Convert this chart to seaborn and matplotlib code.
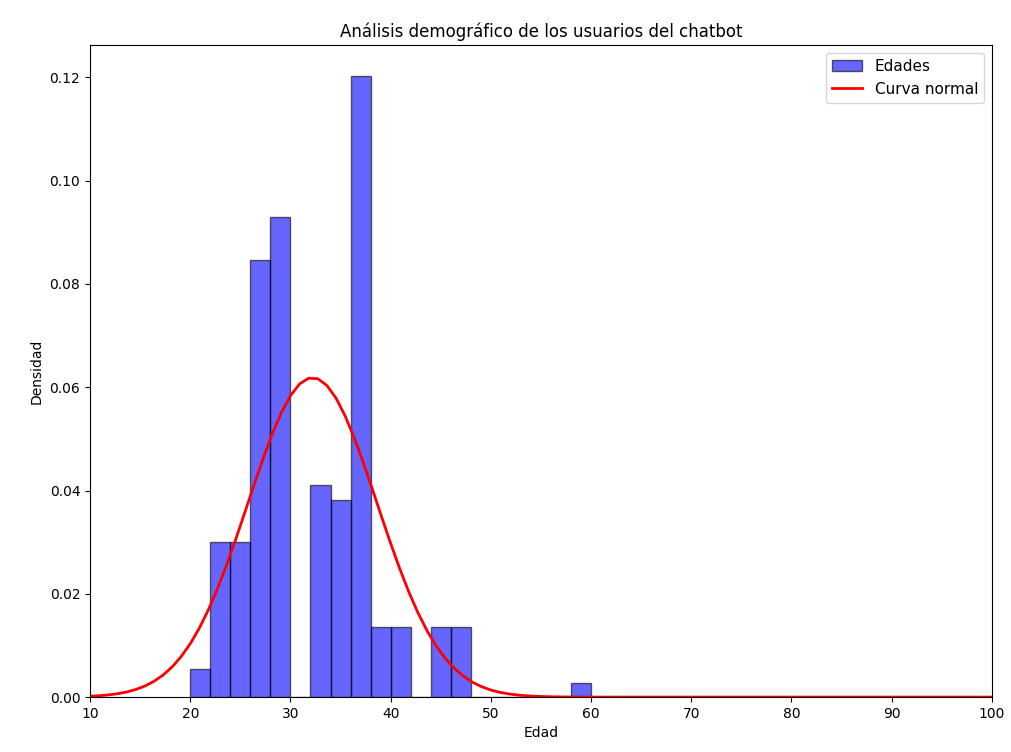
import numpy as np
import pandas as pd
import matplotlib
matplotlib.use("Agg")
import matplotlib.pyplot as plt
import seaborn as sns

# Histogram data (bin width 2, counts read from the density heights)
bin_edges = list(range(20, 62, 2))
age_centers = [21, 23, 25, 27, 29, 33, 35, 37, 39, 41, 45, 47, 59]
age_counts = [2, 11, 11, 31, 34, 15, 14, 44, 5, 5, 5, 5, 1]

# Normal curve parameters
mu = 32.2
sigma = 6.45
curve_x = np.linspace(10, 100, 100)

title = "Análisis demográfico de los usuarios del chatbot"

plt.rcParams['font.family'] = ['DejaVu Sans']
fig, ax = plt.subplots(figsize=(10.12, 7.52), dpi=100)
fig.subplots_adjust(left=0.089, right=0.980, top=0.940, bottom=0.073)

df = pd.DataFrame({"Edad": age_centers, "n": age_counts})
sns.histplot(data=df, x="Edad", weights="n", bins=bin_edges, stat="density",
             color="blue", alpha=0.6, edgecolor="black", linewidth=1,
             label="Edades", ax=ax)
for p in ax.patches:
    p.set_edgecolor((0, 0, 0, 0.6))

curve_y = np.exp(-0.5 * ((curve_x - mu) / sigma) ** 2) / (sigma * np.sqrt(2 * np.pi))
sns.lineplot(x=curve_x, y=curve_y, color="red", linewidth=2, label="Curva normal", ax=ax)

ax.set_xlim(10, 100)
ax.set_ylim(0, None)
ax.set_title(title, fontsize=12)
ax.set_xlabel("Edad")
ax.set_ylabel("Densidad")

handles, labels = ax.get_legend_handles_labels()
order = [labels.index("Edades"), labels.index("Curva normal")]
ax.legend([handles[i] for i in order], [labels[i] for i in order],
          loc="upper right", fontsize=11)

fig.savefig("out.png", dpi=100)
